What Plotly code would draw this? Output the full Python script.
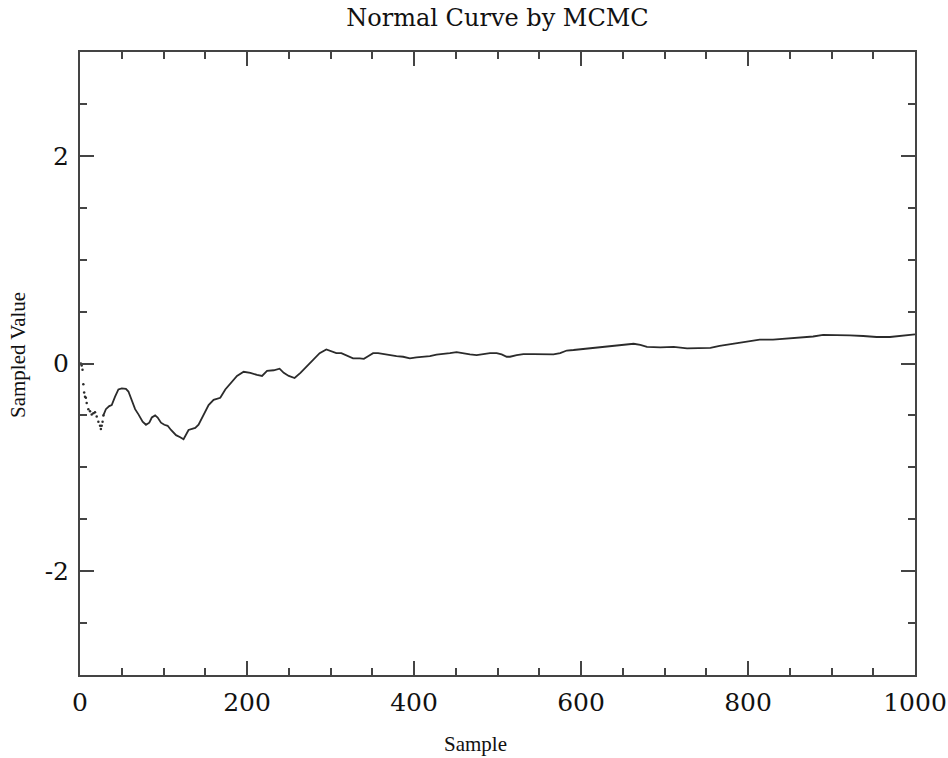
import plotly.graph_objects as go

# Early, sparse samples (drawn as separate dots)
early_sample = [1, 2, 3, 4, 5, 6, 7, 8, 10, 12, 14, 16, 18, 20, 22, 24, 25, 26, 27, 28]
early_value = [0.0, -0.02, -0.06, -0.20, -0.28, -0.32, -0.33, -0.38, -0.44, -0.46,
               -0.49, -0.48, -0.47, -0.51, -0.56, -0.60, -0.63, -0.60, -0.56, -0.50]

# Main running trace
sample = [28, 31, 35, 38, 42, 46, 50, 55, 58, 62, 66, 70, 75, 79, 83, 86, 90, 93, 97, 101,
          105, 109, 115, 120, 124, 130, 138, 142, 148, 154, 160, 168, 174, 182, 188, 196,
          204, 212, 218, 224, 232, 239, 244, 250, 257, 264, 271, 279, 287, 295, 301, 307,
          313, 319, 327, 335, 340, 345, 351, 357, 363, 371, 379, 387, 395, 403, 411, 419,
          427, 435, 443, 451, 459, 467, 475, 483, 491, 499, 505, 511, 515, 523, 531, 543,
          555, 567, 575, 583, 591, 603, 615, 631, 647, 663, 671, 679, 695, 711, 727, 743,
          755, 766, 782, 798, 814, 830, 846, 862, 878, 890, 906, 922, 938, 954, 970, 982,
          994, 1000]
value = [-0.50, -0.44, -0.41, -0.40, -0.32, -0.25, -0.24, -0.245, -0.27, -0.36, -0.44, -0.49,
         -0.56, -0.59, -0.57, -0.52, -0.50, -0.52, -0.57, -0.59, -0.60, -0.64, -0.69, -0.71,
         -0.73, -0.64, -0.62, -0.59, -0.49, -0.40, -0.35, -0.33, -0.25, -0.17, -0.12, -0.08,
         -0.09, -0.11, -0.12, -0.07, -0.065, -0.05, -0.09, -0.12, -0.14, -0.09, -0.03, 0.04,
         0.10, 0.135, 0.12, 0.10, 0.10, 0.08, 0.05, 0.05, 0.045, 0.07, 0.10, 0.10, 0.09, 0.08,
         0.07, 0.065, 0.05, 0.06, 0.065, 0.07, 0.085, 0.09, 0.10, 0.11, 0.097, 0.087, 0.08,
         0.093, 0.10, 0.10, 0.087, 0.065, 0.065, 0.08, 0.09, 0.09, 0.09, 0.087, 0.10, 0.125,
         0.13, 0.14, 0.15, 0.165, 0.18, 0.19, 0.18, 0.16, 0.155, 0.16, 0.145, 0.145, 0.15,
         0.17, 0.19, 0.21, 0.23, 0.23, 0.24, 0.25, 0.26, 0.275, 0.275, 0.27, 0.265, 0.255,
         0.255, 0.265, 0.275, 0.28]

x_ticks = [0, 200, 400, 600, 800, 1000]
y_ticks = [-2, 0, 2]

line_color = "#2b2b2b"
axis_color = "#444444"
text_color = "#111111"

fig = go.Figure()
fig.add_trace(go.Scatter(x=early_sample, y=early_value, mode="markers",
                         marker=dict(size=2.5, color=line_color), showlegend=False))
fig.add_trace(go.Scatter(x=sample, y=value, mode="lines",
                         line=dict(color=line_color, width=1.8), showlegend=False))

axis_common = dict(
    showgrid=False, zeroline=False, showline=True, linecolor=axis_color, linewidth=2,
    mirror="ticks", ticks="inside", ticklen=14, tickwidth=2, tickcolor=axis_color,
    tickfont=dict(family="DejaVu Serif", size=25, color=text_color),
    automargin=False, ticklabeloverflow="allow",
)

fig.update_xaxes(range=[0, 1000], tickvals=x_ticks, ticktext=[str(v) for v in x_ticks],
                 minor=dict(dtick=50, tick0=0, ticks="inside", ticklen=7, tickwidth=2,
                            tickcolor=axis_color),
                 ticklabelstandoff=4, **axis_common)
fig.update_yaxes(range=[-3, 3], tickvals=y_ticks, ticktext=[str(v) for v in y_ticks],
                 minor=dict(dtick=0.5, tick0=0, ticks="inside", ticklen=7, tickwidth=2,
                            tickcolor=axis_color),
                 ticklabelstandoff=4, **axis_common)

title_font = dict(family="Liberation Serif", size=21, color=text_color)
fig.add_annotation(text="Sample", xref="paper", yref="paper", x=0.474, y=-0.111,
                   xanchor="center", yanchor="middle", showarrow=False, font=title_font)
fig.add_annotation(text="Sampled Value", xref="paper", yref="paper", x=-0.0743, y=0.5136,
                   xanchor="center", yanchor="middle", textangle=-90, showarrow=False,
                   font=title_font)

fig.update_layout(
    width=948, height=758,
    margin=dict(l=80, r=33, t=52, b=83),
    paper_bgcolor="white", plot_bgcolor="white",
    hovermode=False,
    title=dict(text="Normal Curve by MCMC", x=0.5, xanchor="center", y=0.9763,
               yanchor="middle", xref="paper",
               font=dict(family="DejaVu Serif", size=24, color=text_color)),
)

fig.write_html("out.html",
               config={"displayModeBar": False},
               post_script="document.body.style.margin='0';"
                           "document.body.style.overflow='hidden';")
